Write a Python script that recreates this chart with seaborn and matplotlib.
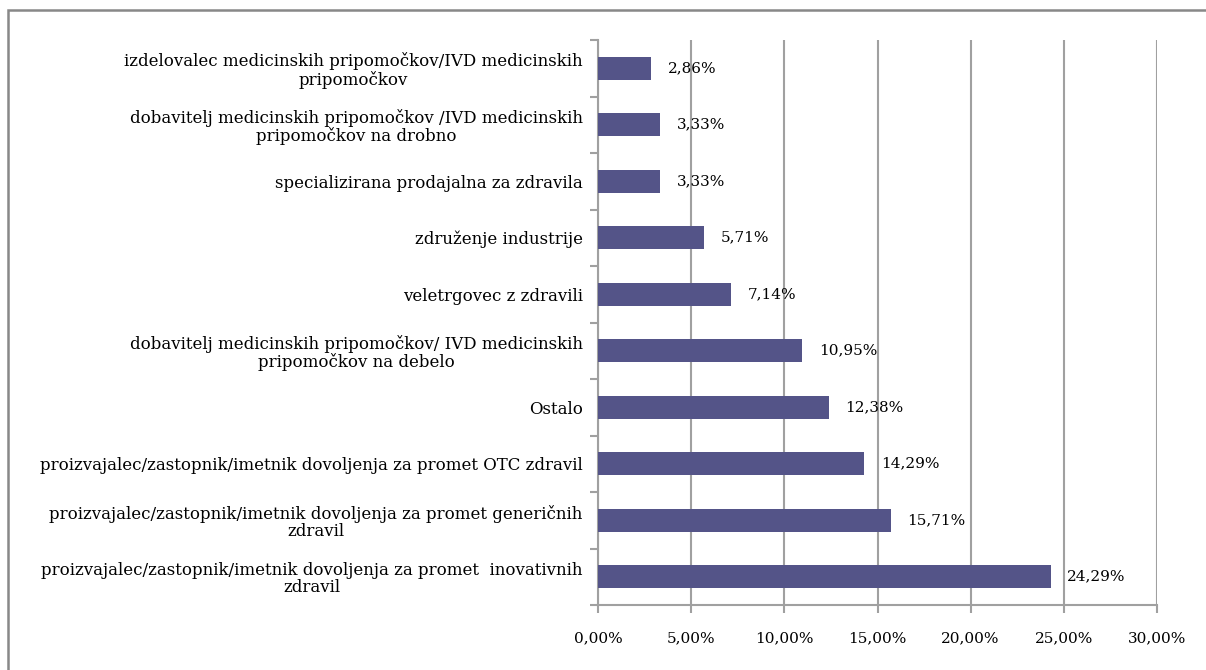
import matplotlib
matplotlib.use("Agg")
import matplotlib.pyplot as plt
import seaborn as sns
import pandas as pd
from matplotlib.patches import Rectangle
from matplotlib.ticker import MultipleLocator, FuncFormatter

# data, top to bottom as in the chart
categories = [
    "izdelovalec medicinskih pripomočkov/IVD medicinskih\npripomočkov",
    "dobavitelj medicinskih pripomočkov /IVD medicinskih\npripomočkov na drobno",
    "specializirana prodajalna za zdravila",
    "združenje industrije",
    "veletrgovec z zdravili",
    "dobavitelj medicinskih pripomočkov/ IVD medicinskih\npripomočkov na debelo",
    "Ostalo",
    "proizvajalec/zastopnik/imetnik dovoljenja za promet OTC zdravil",
    "proizvajalec/zastopnik/imetnik dovoljenja za promet generičnih\nzdravil",
    "proizvajalec/zastopnik/imetnik dovoljenja za promet  inovativnih\nzdravil",
]
shares = [2.86, 3.33, 3.33, 5.71, 7.14, 10.95, 12.38, 14.29, 15.71, 24.29]

df = pd.DataFrame({"kategorija": categories, "delez": shares})

sns.set_style("white")
plt.rcParams["font.family"] = ["DejaVu Serif", "Liberation Serif"]
plt.rcParams["text.color"] = "black"
plt.rcParams["xtick.labelcolor"] = "black"
plt.rcParams["ytick.labelcolor"] = "black"

fig = plt.figure(figsize=(12.06, 6.7), dpi=100)
ax = fig.add_axes([598 / 1206, 1 - 605 / 670, (1157 - 598) / 1206, 565 / 670])

sns.barplot(data=df, x="delez", y="kategorija", color="#545488", width=0.4,
            saturation=1, linewidth=0, ax=ax, zorder=3)

grid_col = "#a0a0a0"
fs = 11
ax.set_xlim(0, 30)
ax.set_ylim(len(categories) - 0.5, -0.5)
ax.xaxis.set_major_locator(MultipleLocator(5))
ax.xaxis.set_major_formatter(FuncFormatter(lambda v, p: f"{v:.2f}%".replace(".", ",")))
ax.grid(axis="x", color=grid_col, linewidth=1.5, zorder=0)
ax.grid(axis="y", visible=False)

for side in ["top", "right"]:
    ax.spines[side].set_visible(False)
for side in ["left", "bottom"]:
    ax.spines[side].set_color(grid_col)
    ax.spines[side].set_linewidth(1.5)

ax.set_xlabel("")
ax.set_ylabel("")

# ticks: x downwards, y at category boundaries
ax.tick_params(axis="x", which="major", direction="out", length=6, width=1.5,
               color=grid_col, bottom=True, pad=13, labelsize=fs)
ax.set_yticks([i - 0.5 for i in range(len(categories) + 1)], minor=True)
ax.tick_params(axis="y", which="minor", direction="out", length=6, width=1.5,
               color=grid_col, left=True)
ax.tick_params(axis="y", which="major", length=0, pad=11, labelsize=12)
for lbl in ax.get_yticklabels():
    lbl.set_multialignment("center")
    lbl.set_linespacing(1.05)

ax.bar_label(ax.containers[0], labels=[f"{v:.2f}%".replace(".", ",") for v in shares],
             padding=12, fontsize=fs, color="black")

# outer chart border
fig.add_artist(Rectangle((8 / 1206, -0.1), 1.2, 1 - 10 / 670 + 0.1,
                         transform=fig.transFigure, fill=False,
                         edgecolor="#888888", linewidth=1.8))

fig.savefig("out.png", dpi=100)
